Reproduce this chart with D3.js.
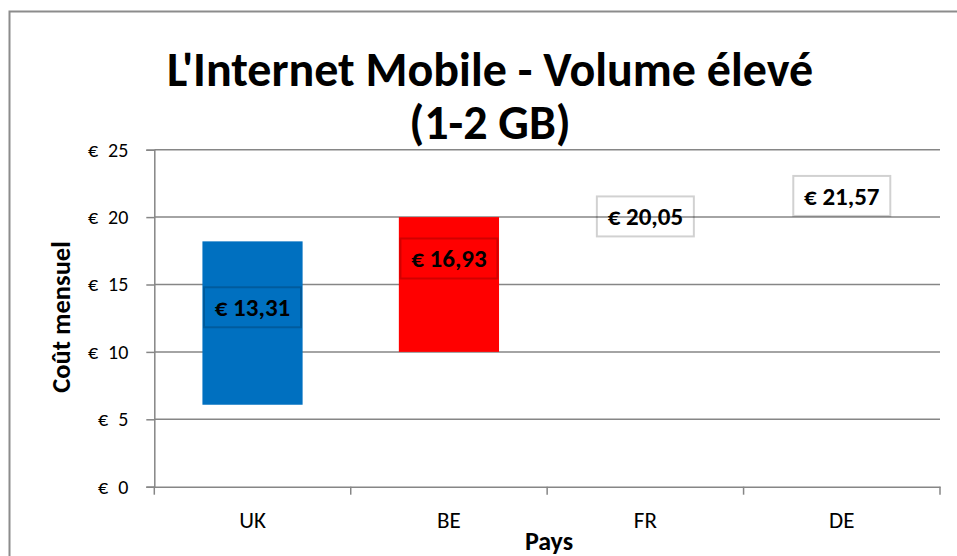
<!DOCTYPE html>
<html>
<head>
<meta charset="utf-8">
<script src="https://cdn.jsdelivr.net/npm/d3@7"></script>
<style>
  body { margin: 0; background: #fff; }
  svg text { font-family: Carlito, Lato, "Liberation Sans", sans-serif; }
</style>
</head>
<body>
<div id="chart"></div>
<script>
/* Floating bars (min - max) with average labels */

const categories = ["UK", "BE", "FR", "DE"];
const lows = [6.08, 10, 20.05, 21.57];   // cheapest offer
const highs = [18.2, 20, 20.05, 21.57];  // most expensive offer
const avgs = [13.31, 16.93, 20.05, 21.57];
const yTicks = [0, 5, 10, 15, 20, 25];
const barColors = ["#0070C0", "#FF0000", "#FFFFFF", "#FFFFFF"];
const titleLines = ["L'Internet Mobile - Volume élevé", "(1-2 GB)"];

const data = categories.map((c, i) => ({ pays: c, low: lows[i], high: highs[i], avg: avgs[i], color: barColors[i] }));

const width = 957,
      height = 556,
      margin = ({ top: 149.7, right: 17, bottom: 69.3, left: 154.3 });

const eur = d3.formatLocale({ decimal: ",", thousands: " ", grouping: [3], currency: ["€ ", ""] });
const fmtLabel = eur.format("$.2f");

let svg = d3.select("#chart")
    .append("svg")
    .attr("width", width)
    .attr("height", height);

// outer frame of the chart
svg.append("rect")
    .attr("x", 9.5)
    .attr("y", 11.5)
    .attr("width", width + 20)
    .attr("height", height + 20)
    .attr("fill", "none")
    .attr("stroke", "#8c8c8c")
    .attr("stroke-width", 2);

let x = d3.scaleBand()
    .domain(categories)
    .range([margin.left, width - margin.right]);

let y = d3.scaleLinear()
    .domain([0, 25])
    .range([height - margin.bottom, margin.top]);

// gridlines
svg.append("g")
    .selectAll("line")
    .data(yTicks.slice(1))
    .join("line")
    .attr("x1", margin.left)
    .attr("x2", width - margin.right)
    .attr("y1", d => y(d))
    .attr("y2", d => y(d))
    .attr("stroke", "#868686")
    .attr("stroke-width", 1.5);

// bars from low to high
const barW = x.bandwidth() * 0.51;
svg.append("g")
    .selectAll("rect")
    .data(data)
    .join("rect")
    .attr("x", d => x(d.pays) + (x.bandwidth() - barW) / 2)
    .attr("width", barW)
    .attr("y", d => y(d.high))
    .attr("height", d => y(d.low) - y(d.high))
    .attr("fill", d => d.color);

// y axis (accounting style: wider gap after the euro sign)
let yAxis = svg.append("g")
    .attr("transform", `translate(${margin.left},0)`)
    .call(d3.axisLeft(y).tickValues(yTicks).tickFormat(d => "€\u2002" + d).tickSize(8).tickPadding(18));
yAxis.select(".domain").attr("stroke", "#868686").attr("stroke-width", 1.5);
yAxis.selectAll(".tick line").attr("stroke", "#868686").attr("stroke-width", 1.5);
yAxis.selectAll(".tick text")
    .attr("fill", "#000")
    .style("font-size", "20px");

// x axis: labels centred, ticks on band edges
let xAxis = svg.append("g")
    .attr("transform", `translate(0,${height - margin.bottom})`)
    .call(d3.axisBottom(x).tickSize(0).tickPadding(25));
xAxis.select(".domain").attr("stroke", "#868686").attr("stroke-width", 1.5);
xAxis.selectAll(".tick text")
    .attr("fill", "#000")
    .style("font-size", "23px");
xAxis.selectAll(".edge")
    .data(categories.map(c => x(c)).concat([width - margin.right]))
    .join("line")
    .attr("class", "edge")
    .attr("x1", d => d)
    .attr("x2", d => d)
    .attr("y1", 0)
    .attr("y2", 8)
    .attr("stroke", "#868686")
    .attr("stroke-width", 1.5);

// average labels
let lab = svg.append("g")
    .selectAll("g")
    .data(data)
    .join("g")
    .attr("transform", d => `translate(${x(d.pays) + x.bandwidth() / 2},${y(d.avg)})`);

lab.append("rect")
    .attr("x", -48.5)
    .attr("y", -20)
    .attr("width", 97)
    .attr("height", 40)
    .attr("fill", "none")
    .attr("stroke", "rgba(0,0,0,0.18)")
    .attr("stroke-width", 2);

lab.append("text")
    .text(d => fmtLabel(d.avg))
    .attr("text-anchor", "middle")
    .attr("dy", "0.36em")
    .style("font-size", "25px")
    .style("font-weight", "bold");

// title, two lines
svg.append("text")
    .attr("text-anchor", "middle")
    .style("font-size", "48px")
    .style("font-weight", "bold")
    .selectAll("tspan")
    .data(titleLines)
    .join("tspan")
    .attr("x", 490)
    .attr("y", (d, i) => 86 + i * 53)
    .text(d => d);

// axis names
svg.append("text")
    .attr("x", 549)
    .attr("y", 550)
    .attr("text-anchor", "middle")
    .style("font-size", "26px")
    .style("font-weight", "bold")
    .text("Pays");

svg.append("text")
    .attr("transform", "rotate(-90)")
    .attr("x", -317)
    .attr("y", 70)
    .attr("text-anchor", "middle")
    .style("font-size", "26.5px")
    .style("font-weight", "bold")
    .text("Coût mensuel");
</script>
</body>
</html>
